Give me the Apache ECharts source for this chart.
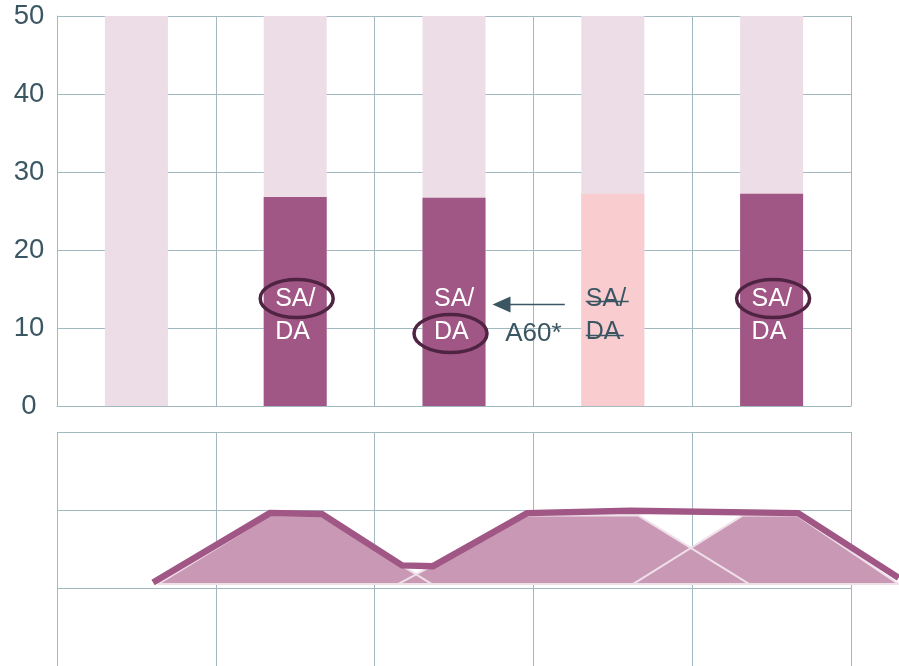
<!DOCTYPE html>
<html>
<head>
<meta charset="utf-8">
<script src="https://cdn.jsdelivr.net/npm/echarts@6/dist/echarts.min.js"></script>
<style>
  html, body { margin: 0; padding: 0; background: #fff; }
  #main { width: 899px; height: 666px; }
</style>
</head>
<body>
<div id="main"></div>
<script>
// top panel: columns
var categories = ['1', '2', '3', '4', '5'];
var values = [0, 26.8, 26.7, 27.2, 27.2];
var barState = ['empty', 'active', 'active', 'struck', 'active'];
var barLabels = ['', 'SA/\nDA', 'SA/\nDA', 'SA/\nDA', 'SA/\nDA'];
var circled = ['', 'SA/', 'DA', '', 'SA/'];
var noteText = 'A60*';
var yMax = 50;

// bottom panel: trapezoids + thick path (x in column units, y in row units)
var trapBase = 1.05;
var trap1 = [[0.636, 1.05], [1.341, 1.93], [1.656, 1.93], [2.361, 1.05]];
var trap2 = [[2.147, 1.05], [2.96, 1.93], [3.659, 1.93], [4.36, 1.05]];
var trap3 = [[3.627, 1.05], [4.32, 1.93], [4.66, 1.93], [5.30, 1.05]];
var pathPoints = [[0.605, 1.07], [1.341, 1.96], [1.668, 1.95], [2.173, 1.29], [2.368, 1.28],
                  [2.96, 1.96], [3.61, 1.99], [4.667, 1.96], [5.30, 1.13]];

var font = 'Liberation Sans, Arial, sans-serif';
var gridColor = '#a3b9c2';
var textColor = '#3b5663';
var plum = '#a05785';

// the bottom path runs past the last column, so it lives in a wider grid
var colsShown = 5;
var plotLeft = 57, plotRight = 48, pageW = 899;
var wideMax = colsShown * (pageW - plotLeft) / (pageW - plotLeft - plotRight);

var chart = echarts.init(document.getElementById('main'));

function trapSeries(pts) {
  return {
    type: 'line', xAxisIndex: 2, yAxisIndex: 2,
    data: pts.concat([pts[0]]),
    symbol: 'none', silent: true,
    lineStyle: { color: '#efdfe9', width: 2 },
    areaStyle: { color: '#c898b4', opacity: 1, origin: trapBase }
  };
}

var hidden = {
  axisLine: { show: false }, axisTick: { show: false },
  axisLabel: { show: false }, splitLine: { show: false }
};

var option = {
  animation: false,
  grid: [
    { left: plotLeft, right: plotRight, top: 16, bottom: 260 },
    { left: plotLeft, right: plotRight, top: 432, bottom: 0 },
    { left: plotLeft, right: 0, top: 432, bottom: 0 }
  ],
  xAxis: [{
    gridIndex: 0, type: 'category', data: categories,
    axisLine: { show: true, lineStyle: { color: gridColor } },
    axisTick: { show: false }, axisLabel: { show: false },
    splitLine: { show: true, lineStyle: { color: gridColor } }
  }, {
    gridIndex: 1, type: 'value', min: 0, max: colsShown, interval: 1,
    axisLine: { show: false }, axisTick: { show: false }, axisLabel: { show: false },
    splitLine: { show: true, lineStyle: { color: gridColor } }
  }, Object.assign({ gridIndex: 2, type: 'value', min: 0, max: wideMax }, hidden)],
  yAxis: [{
    gridIndex: 0, type: 'value', min: 0, max: yMax, interval: 10,
    axisLine: { show: true, lineStyle: { color: gridColor } },
    axisTick: { show: false },
    axisLabel: { fontSize: 27.5, color: textColor, margin: 28, align: 'center', fontFamily: font },
    splitLine: { show: true, lineStyle: { color: gridColor } }
  }, {
    gridIndex: 1, type: 'value', min: 0, max: 3, interval: 1,
    axisLine: { show: false }, axisTick: { show: false }, axisLabel: { show: false },
    splitLine: { show: true, lineStyle: { color: gridColor } }
  }, Object.assign({ gridIndex: 2, type: 'value', min: 0, max: 3 }, hidden)],
  series: [{
    type: 'bar', xAxisIndex: 0, yAxisIndex: 0,
    barWidth: 63,
    showBackground: true,
    backgroundStyle: { color: '#ecdde6' },
    label: {
      position: 'insideBottom', distance: 57, align: 'left',
      fontSize: 25, lineHeight: 33, fontFamily: font
    },
    data: values.map(function (v, i) {
      var struck = barState[i] === 'struck';
      return {
        value: v,
        itemStyle: { color: struck ? '#f9cdd0' : plum },
        label: {
          show: !!barLabels[i], formatter: barLabels[i],
          color: struck ? textColor : '#fff',
          offset: [struck ? -27 : -20, 0]
        }
      };
    })
  },
    trapSeries(trap1), trapSeries(trap2), trapSeries(trap3),
  {
    type: 'line', xAxisIndex: 2, yAxisIndex: 2,
    data: pathPoints, symbol: 'none',
    lineStyle: { color: plum, width: 6.5, join: 'miter' }
  }]
};
chart.setOption(option);

// annotations (ellipses, arrow, strikethrough) placed from the bar positions
var g = [];
var lineGap = 33, lift = 57;
var struckIdx = barState.indexOf('struck');
values.forEach(function (v, i) {
  var base = chart.convertToPixel({ gridIndex: 0 }, [i, 0]);
  var l1 = base[1] - lift - lineGap * 1.5;
  var l2 = base[1] - lift - lineGap * 0.5;
  if (circled[i] === 'SA/') {
    g.push({ type: 'ellipse', shape: { cx: base[0] + 1.5, cy: l1 - 1, rx: 36.5, ry: 19 },
      style: { fill: 'none', stroke: '#4f2442', lineWidth: 3.5 }, z: 100 });
  } else if (circled[i] === 'DA') {
    g.push({ type: 'ellipse', shape: { cx: base[0] - 3.5, cy: l2 + 1, rx: 36.5, ry: 19 },
      style: { fill: 'none', stroke: '#4f2442', lineWidth: 3.5 }, z: 100 });
  }
  if (i === struckIdx) {
    var left = base[0] - 27;
    g.push({ type: 'line', shape: { x1: left, y1: l1 + 2, x2: left + 43, y2: l1 + 2 },
      style: { stroke: textColor, lineWidth: 1.6 }, z: 100 });
    g.push({ type: 'line', shape: { x1: left, y1: l2 + 3, x2: left + 38, y2: l2 + 3 },
      style: { stroke: textColor, lineWidth: 1.6 }, z: 100 });
    var prev = chart.convertToPixel({ gridIndex: 0 }, [i - 1, 0]);
    var tip = prev[0] + 31.5 + 7;
    var tail = base[0] - 48;
    var ay = l1 + 5;
    g.push({ type: 'line', shape: { x1: tip + 12, y1: ay, x2: tail, y2: ay },
      style: { stroke: textColor, lineWidth: 1.5 }, z: 100 });
    g.push({ type: 'polygon', shape: { points: [[tip, ay], [tip + 18, ay - 8], [tip + 18, ay + 8]] },
      style: { fill: textColor }, z: 100 });
    g.push({ type: 'text', x: (prev[0] + base[0]) / 2, y: l2 + 1, z: 100,
      style: { text: noteText, fill: textColor, fontSize: 26, fontFamily: font,
        align: 'center', verticalAlign: 'middle' } });
  }
});
chart.setOption({ graphic: { elements: g } });
</script>
</body>
</html>
